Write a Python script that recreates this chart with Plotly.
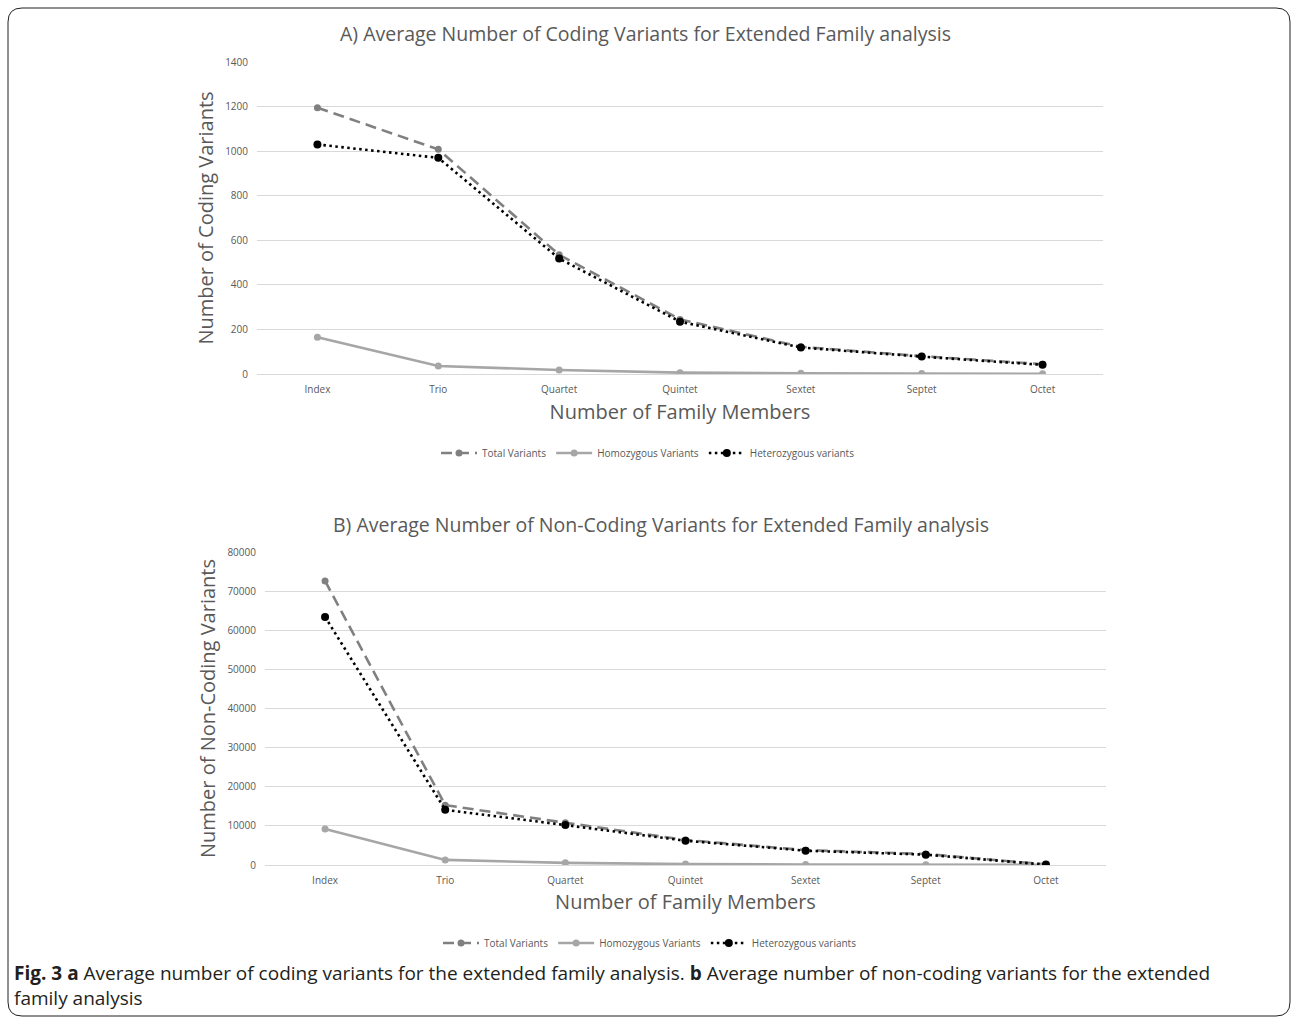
import plotly.graph_objects as go

categories = ["Index", "Trio", "Quartet", "Quintet", "Sextet", "Septet", "Octet"]

# Panel A: coding variants
coding_total = [1195, 1008, 535, 245, 122, 80, 44]
coding_homo = [165, 36, 18, 6, 3, 2, 1]
coding_het = [1030, 970, 518, 235, 119, 78, 41]

# Panel B: non-coding variants
noncoding_total = [72600, 15300, 10800, 6400, 3800, 2800, 150]
noncoding_homo = [9200, 1300, 550, 230, 120, 80, 30]
noncoding_het = [63400, 14100, 10200, 6200, 3650, 2650, 100]

series_names = ["Total Variants", "Homozygous Variants", "Heterozygous variants"]

W, H = 1293, 1019
FONT = "Open Sans"
GREY_TXT = "#595959"

def px_x(x):
    return x / W

def px_y(y):
    return 1 - y / H

styles = [
    dict(line=dict(color="#808080", width=2.6, dash="11px,6px"), marker=dict(color="#808080", size=7)),
    dict(line=dict(color="#a6a6a6", width=2.6), marker=dict(color="#a6a6a6", size=7)),
    dict(line=dict(color="#000000", width=2.6, dash="2.5px,3.5px"), marker=dict(color="#000000", size=8)),
]

fig = go.Figure()

panel_a = [coding_total, coding_homo, coding_het]
panel_b = [noncoding_total, noncoding_homo, noncoding_het]

for i, (name, vals) in enumerate(zip(series_names, panel_a)):
    fig.add_trace(go.Scatter(x=categories, y=vals, name=name, mode="lines+markers",
                             xaxis="x", yaxis="y", legend="legend",
                             line=styles[i]["line"], marker=styles[i]["marker"]))
for i, (name, vals) in enumerate(zip(series_names, panel_b)):
    fig.add_trace(go.Scatter(x=categories, y=vals, name=name, mode="lines+markers",
                             xaxis="x2", yaxis="y2", legend="legend2",
                             line=styles[i]["line"], marker=styles[i]["marker"]))

axis_common_x = dict(
    type="category", range=[-0.5, 6.5], showgrid=False, zeroline=False,
    showline=True, linecolor="#d9d9d9", linewidth=1, ticks="", automargin=False,
    ticklabelstandoff=6,
    tickfont=dict(family=FONT, size=10, color=GREY_TXT),
    title_font=dict(family=FONT, size=20, color=GREY_TXT),
)
axis_common_y = dict(
    showgrid=True, gridcolor="#d9d9d9", gridwidth=1, zeroline=False, showline=False,
    ticks="", tickformat="d", automargin=False,
    ticklabelstandoff=8,
    tickfont=dict(family=FONT, size=10, color=GREY_TXT),
    title_font=dict(family=FONT, size=20, color=GREY_TXT),
)

fig.update_layout(
    width=W, height=H,
    margin=dict(l=0, r=0, t=0, b=0, pad=0, autoexpand=False),
    paper_bgcolor="white", plot_bgcolor="white",
    font=dict(family=FONT, color=GREY_TXT),
    xaxis=dict(axis_common_x, domain=[px_x(257), px_x(1103)], anchor="y",
               title=dict(text="Number of Family Members", standoff=9)),
    yaxis=dict(axis_common_y, domain=[px_y(374), px_y(62)], anchor="x",
               range=[0, 1400], dtick=200,
               title=dict(text="Number of Coding Variants", standoff=6)),
    xaxis2=dict(axis_common_x, domain=[px_x(265), px_x(1106)], anchor="y2",
                title=dict(text="Number of Family Members", standoff=8)),
    yaxis2=dict(axis_common_y, domain=[px_y(865), px_y(552)], anchor="x2",
                range=[0, 80000], dtick=10000,
                title=dict(text="Number of Non-Coding Variants", standoff=6)),
    legend=dict(orientation="h", x=px_x(648), xanchor="center", y=px_y(453), yanchor="middle",
                itemwidth=36,
                font=dict(family=FONT, size=10, color=GREY_TXT), bgcolor="rgba(0,0,0,0)"),
    legend2=dict(orientation="h", x=px_x(650), xanchor="center", y=px_y(943), yanchor="middle",
                 itemwidth=36,
                 font=dict(family=FONT, size=10, color=GREY_TXT), bgcolor="rgba(0,0,0,0)"),
    showlegend=True,
)

annotations = [
    dict(text="A) Average Number of Coding Variants for Extended Family analysis",
         x=px_x(645), y=px_y(33), xref="paper", yref="paper", showarrow=False,
         xanchor="center", yanchor="middle",
         font=dict(family=FONT, size=19.5, color=GREY_TXT)),
    dict(text="B) Average Number of Non-Coding Variants for Extended Family analysis",
         x=px_x(661), y=px_y(524), xref="paper", yref="paper", showarrow=False,
         xanchor="center", yanchor="middle",
         font=dict(family=FONT, size=19.5, color=GREY_TXT)),
    dict(text="<b>Fig. 3</b> <b>a</b> Average number of coding variants for the extended family analysis. "
              "<b>b</b> Average number of non-coding variants for the extended<br>family analysis",
         x=px_x(12), y=px_y(985), xref="paper", yref="paper", showarrow=False,
         xanchor="left", yanchor="middle", align="left",
         font=dict(family=FONT, size=19, color="#231f20")),
]
fig.update_layout(annotations=annotations)

# rounded frame around the figure
x0, y0, x1, y1 = px_x(8), px_y(8), px_x(1290), px_y(1016)
rx, ry = 14 / W, 14 / H
path = (f"M {x0+rx},{y0} L {x1-rx},{y0} Q {x1},{y0} {x1},{y0-ry} "
        f"L {x1},{y1+ry} Q {x1},{y1} {x1-rx},{y1} "
        f"L {x0+rx},{y1} Q {x0},{y1} {x0},{y1+ry} "
        f"L {x0},{y0-ry} Q {x0},{y0} {x0+rx},{y0} Z")
fig.add_shape(type="path", path=path, xref="paper", yref="paper",
              line=dict(color="#231f20", width=1), fillcolor="rgba(0,0,0,0)")

fig.write_html(
    "out.html",
    config={"displayModeBar": False},
    post_script=(
        "document.body.style.margin='0';document.body.style.padding='0';"
        "document.documentElement.style.overflow='hidden';"
        "var gd=document.getElementById('{plot_id}');"
        "gd.style.position='fixed';gd.style.left='0px';gd.style.top='0px';"
    ),
)
